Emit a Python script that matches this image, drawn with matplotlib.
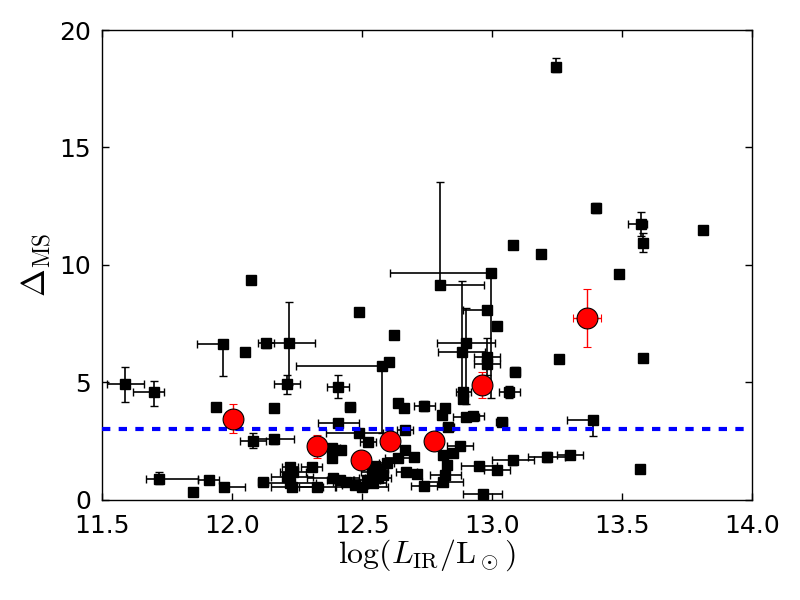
import numpy as np
import matplotlib
matplotlib.use('Agg')
import matplotlib.pyplot as plt

plt.rcParams['mathtext.fontset'] = 'cm'
plt.rcParams['lines.scale_dashes'] = False

# black squares: log LIR, Delta_MS, and asymmetric errors
lir = [11.59, 11.70, 11.72, 11.85, 11.91, 11.97, 11.94, 11.965, 12.05, 12.075,
       12.13, 12.22, 12.21, 12.16, 12.08, 12.16, 12.12, 12.223, 12.236, 12.21,
       12.223, 12.23, 12.306, 12.326, 12.39, 12.415, 12.44, 12.473, 12.50, 12.518,
       12.544, 12.537, 12.55, 12.56, 12.57, 12.58, 12.595, 12.386, 12.418, 12.386,
       12.409, 12.409, 12.454, 12.49, 12.576, 12.605, 12.49, 12.624, 12.64, 12.66,
       12.665, 12.524, 12.665, 12.64, 12.70, 12.67, 12.71, 12.74, 12.74, 12.806,
       12.82, 12.832, 12.877, 12.85, 12.81, 12.826, 12.82, 12.81, 12.95, 13.02,
       13.08, 13.21, 13.30, 12.964, 12.90, 12.928, 13.037, 13.067, 13.088, 12.89,
       12.89, 12.883, 12.90, 12.98, 13.02, 12.98, 12.98, 12.80, 12.997, 13.08,
       13.19, 13.246, 13.40, 13.49, 13.575, 13.58, 13.81, 13.258, 13.58, 13.57,
       13.387]
dms = [4.92, 4.60, 0.90, 0.36, 0.85, 0.54, 3.96, 6.64, 6.30, 9.37,
       6.68, 6.68, 4.92, 3.91, 2.53, 2.58, 0.77, 1.42, 1.21, 0.99,
       0.71, 0.57, 1.42, 0.57, 0.92, 0.85, 0.78, 0.64, 0.54, 0.85,
       0.71, 1.20, 1.45, 0.95, 1.30, 1.05, 1.56, 2.20, 2.13, 1.77,
       3.26, 4.82, 3.97, 2.87, 5.70, 5.89, 7.99, 7.02, 4.11, 3.90,
       2.98, 2.48, 2.13, 1.77, 1.82, 1.20, 1.10, 0.61, 4.00, 3.62,
       3.90, 3.12, 2.30, 2.01, 1.91, 1.49, 1.06, 0.78, 1.45, 1.28,
       1.70, 1.83, 1.90, 0.26, 3.55, 3.57, 3.33, 4.61, 5.46, 4.60,
       4.28, 6.31, 6.67, 8.10, 7.42, 6.10, 5.79, 9.13, 9.65, 10.84,
       10.48, 18.42, 12.42, 9.60, 11.74, 10.95, 11.49, 6.00, 6.05, 1.32,
       3.40]
lir_lo = [0.07, 0.08, 0.05, 0, 0.04, 0, 0, 0.10, 0, 0,
          0.03, 0.10, 0.05, 0, 0.05, 0.08, 0.02, 0.03, 0.05, 0.06,
          0.10, 0.08, 0.04, 0.07, 0.10, 0.05, 0.05, 0.05, 0.10, 0.05,
          0.05, 0.04, 0.03, 0.05, 0.03, 0, 0.03, 0.03, 0, 0,
          0.08, 0.042, 0.02, 0.13, 0.33, 0, 0, 0, 0, 0,
          0.03, 0.03, 0, 0.05, 0, 0.04, 0, 0.05, 0.04, 0,
          0, 0.02, 0.05, 0, 0, 0, 0.06, 0.08, 0.07, 0.05,
          0.08, 0.07, 0.05, 0.075, 0.05, 0.04, 0.02, 0.04, 0.02, 0.03,
          0, 0.09, 0.11, 0.09, 0, 0.05, 0.05, 0, 0.39, 0,
          0, 0, 0, 0, 0.05, 0, 0, 0, 0, 0,
          0.10]
lir_hi = [0.07, 0.04, 0.15, 0, 0.04, 0.08, 0, 0, 0, 0,
          0.03, 0.10, 0.05, 0, 0.05, 0.08, 0.02, 0.03, 0.05, 0.10,
          0.10, 0.12, 0.04, 0.07, 0.10, 0.05, 0.05, 0.05, 0.10, 0.05,
          0.05, 0.04, 0.03, 0.05, 0.03, 0, 0.03, 0.03, 0, 0,
          0.08, 0.042, 0.02, 0.09, 0, 0, 0, 0, 0, 0,
          0.03, 0.03, 0, 0.05, 0, 0.04, 0, 0.05, 0.04, 0,
          0, 0.02, 0.05, 0, 0, 0, 0.06, 0.08, 0.07, 0.05,
          0.08, 0.07, 0.05, 0.075, 0.05, 0.04, 0.02, 0.04, 0.02, 0.03,
          0, 0.09, 0.11, 0, 0, 0.05, 0.05, 0.17, 0, 0,
          0, 0, 0, 0, 0.02, 0, 0, 0, 0, 0,
          0]
dms_lo = [0.75, 0.60, 0.20, 0, 0.10, 0, 0, 1.36, 0, 0,
          0.20, 1.80, 0.40, 0, 0.30, 0.20, 0, 0, 0, 0,
          0, 0, 0, 0, 0, 0, 0, 0, 0, 0,
          0, 0, 0, 0, 0, 0, 0, 0, 0, 0,
          0.10, 0.49, 0.15, 0, 2.85, 0, 0, 0, 0, 0,
          0, 0, 0, 0, 0, 0, 0, 0, 0.20, 0,
          0, 0, 0.15, 0, 0, 0, 0, 0, 0.12, 0.15,
          0.20, 0.20, 0.10, 0, 0, 0, 0.15, 0.25, 0.20, 0.10,
          0, 2.00, 2.60, 0, 0, 0.80, 0, 0, 5.30, 0.10,
          0, 0.20, 0.20, 0.15, 0.50, 0.40, 0, 0.15, 0, 0,
          0.68]
dms_hi = [0.75, 0.45, 0.30, 0, 0.10, 0, 0, 0, 0, 0,
          0.15, 1.75, 0.40, 0, 0.30, 0.20, 0, 0, 0, 0,
          0, 0, 0, 0, 0, 0, 0, 0, 0, 0,
          0, 0, 0, 0, 0, 0, 0, 0, 0, 0,
          0.10, 0.49, 0.15, 0, 0, 0, 0, 0, 0, 0,
          0, 0, 0, 0, 0, 0, 0, 0, 0.20, 0,
          0, 0, 0.15, 0, 0, 0, 0, 0, 0.12, 0.15,
          0.15, 0.20, 0.10, 0, 0, 0, 0.15, 0.25, 0.20, 0.10,
          0, 3.00, 1.50, 0, 0, 0.80, 0, 4.40, 0, 0.10,
          0, 0.40, 0.20, 0.15, 0.50, 0.40, 0, 0.15, 0, 0,
          0]

# red circles: binned averages
bin_lir = [12.003, 12.326, 12.498, 12.606, 12.776, 12.96, 13.366]
bin_dms = [3.46, 2.28, 1.71, 2.53, 2.49, 4.89, 7.74]
bin_lir_err = [0.03, 0.03, 0.02, 0.02, 0.02, 0.03, 0.055]
bin_dms_err = [0.63, 0.50, 0.20, 0.25, 0.25, 0.55, 1.22]

ms_threshold = 3.0

fig = plt.figure(figsize=(8, 6), dpi=100)
ax = fig.add_axes([0.1275, 0.1667, 0.8125, 0.7833])

ax.errorbar(lir, dms, xerr=[lir_lo, lir_hi], yerr=[dms_lo, dms_hi],
            fmt='s', color='k', ms=6.5, mec='k', elinewidth=1.2,
            capsize=3, capthick=1, zorder=3)
ax.axhline(ms_threshold, color='b', lw=3, ls='--', dashes=[6, 6], zorder=4)
ax.errorbar(bin_lir, bin_dms, xerr=bin_lir_err, yerr=bin_dms_err,
            fmt='o', color='r', ecolor='r', ms=15, mec='k', mew=0.8,
            elinewidth=1.0, capsize=3, capthick=1, zorder=5)

ax.set_xlim(11.5, 14.0)
ax.set_ylim(0, 20)
ax.set_xticks([11.5, 12.0, 12.5, 13.0, 13.5, 14.0])
ax.set_yticks([0, 5, 10, 15, 20])
ax.xaxis.set_major_formatter(matplotlib.ticker.FormatStrFormatter('%.1f'))
ax.tick_params(direction='in', top=True, right=True, labelsize=18, length=5,
               width=1)
ax.tick_params(axis='x', pad=10)
ax.tick_params(axis='y', pad=8)
for s in ax.spines.values():
    s.set_linewidth(1.0)

ax.set_xlabel(r'$\log(L_{\rm IR}/{\rm L}_\odot)$', fontsize=23, labelpad=0)
ax.set_ylabel(r'$\Delta_{\rm MS}$', fontsize=24, labelpad=4)

fig.savefig('out.png', dpi=100)
